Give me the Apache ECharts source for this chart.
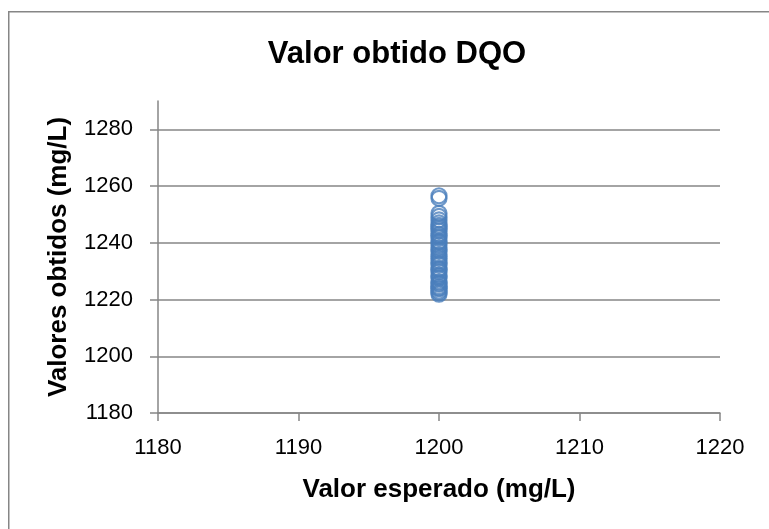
<!DOCTYPE html>
<html>
<head>
<meta charset="utf-8">
<script src="https://cdn.jsdelivr.net/npm/echarts@6/dist/echarts.min.js"></script>
<style>
html,body{margin:0;padding:0;background:#fff;}
#c{width:769px;height:529px;}
</style>
</head>
<body>
<div id="c"></div>
<script>
const titleText = 'Valor obtido DQO';
const xAxisName = 'Valor esperado (mg/L)';
const yAxisName = 'Valores obtidos (mg/L)';
const obtained = [1256.6,1255.7,1250.4,1249.3,1248.1,1247.0,1246.2,1245.6,1244.9,1244.2,1243.1,1242.5,1241.8,1240.6,1240.1,1239.2,1238.3,1237.6,1237.0,1235.9,1235.2,1234.5,1233.6,1232.8,1232.2,1231.0,1230.5,1229.8,1228.6,1228.1,1227.5,1226.3,1225.8,1225.4,1224.6,1224.1,1223.8,1223.0,1222.4,1221.9];
const expected = obtained.map(() => 1200);

const points = expected.map((x, i) => [x, obtained[i]]);
const chart = echarts.init(document.getElementById('c'), null, {renderer: 'canvas'});
const axisGray = '#868686';
const plain = v => String(v);
const tickFont = {fontFamily: 'Liberation Sans', fontSize: 22, color: '#000', formatter: plain};
chart.setOption({
  animation: false,
  backgroundColor: '#fff',
  graphic: [{
    type: 'rect', left: 8, top: 11, z: -1,
    shape: {width: 800, height: 600},
    style: {fill: '#fff', stroke: axisGray, lineWidth: 1.5}
  }],
  title: {
    text: titleText, left: 392, top: 34, textAlign: 'center',
    textStyle: {fontFamily: 'Liberation Sans', fontWeight: 'bold', fontSize: 31, color: '#000'}
  },
  grid: {left: 158, right: 49, top: 101, bottom: 116, containLabel: false},
  xAxis: {
    type: 'value', min: 1180, max: 1220, interval: 10,
    name: xAxisName, nameLocation: 'middle', nameGap: 64,
    nameTextStyle: {fontFamily: 'Liberation Sans', fontWeight: 'bold', fontSize: 26, color: '#000'},
    axisLine: {show: true, lineStyle: {color: axisGray, width: 1.5}},
    axisTick: {show: true, inside: false, length: 8, lineStyle: {color: axisGray, width: 1.5}},
    axisLabel: Object.assign({margin: 24}, tickFont),
    splitLine: {show: false}
  },
  yAxis: {
    type: 'value', min: 1180, max: 1290, interval: 20,
    name: yAxisName, nameLocation: 'middle', nameGap: 86, nameRotate: 90,
    nameTextStyle: {fontFamily: 'Liberation Sans', fontWeight: 'bold', fontSize: 26, color: '#000'},
    axisLine: {show: true, lineStyle: {color: axisGray, width: 1.5}},
    axisTick: {show: true, inside: false, length: 8, lineStyle: {color: axisGray, width: 1.5}},
    axisLabel: Object.assign({margin: 25, showMaxLabel: false}, tickFont),
    splitLine: {show: true, showMaxLine: false, lineStyle: {color: axisGray, width: 1.5}}
  },
  series: [{
    type: 'scatter',
    data: points,
    symbol: 'circle',
    symbolSize: 15,
    itemStyle: {color: 'rgba(0,0,0,0)', borderColor: '#4a7ebb', borderWidth: 2.2}
  }]
});
</script>
</body>
</html>
